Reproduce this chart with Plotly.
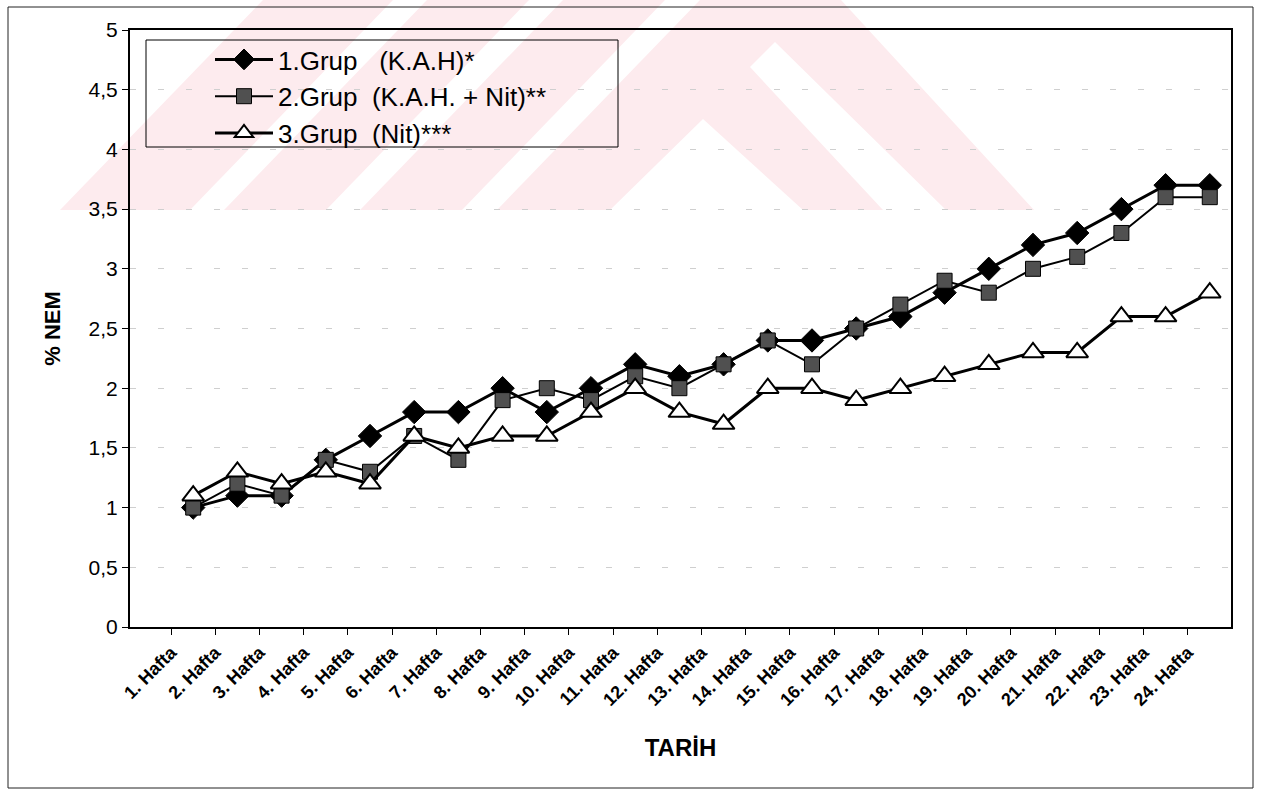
import plotly.graph_objects as go

# ---------------- data ----------------
weeks = ["1. Hafta", "2. Hafta", "3. Hafta", "4. Hafta", "5. Hafta", "6. Hafta",
         "7. Hafta", "8. Hafta", "9. Hafta", "10. Hafta", "11. Hafta", "12. Hafta",
         "13. Hafta", "14. Hafta", "15. Hafta", "16. Hafta", "17. Hafta", "18. Hafta",
         "19. Hafta", "20. Hafta", "21. Hafta", "22. Hafta", "23. Hafta", "24. Hafta"]

grup1 = [1.0, 1.1, 1.1, 1.4, 1.6, 1.8, 1.8, 2.0, 1.8, 2.0, 2.2, 2.1,
         2.2, 2.4, 2.4, 2.5, 2.6, 2.8, 3.0, 3.2, 3.3, 3.5, 3.7, 3.7]
grup2 = [1.0, 1.2, 1.1, 1.4, 1.3, 1.6, 1.4, 1.9, 2.0, 1.9, 2.1, 2.0,
         2.2, 2.4, 2.2, 2.5, 2.7, 2.9, 2.8, 3.0, 3.1, 3.3, 3.6, 3.6]
grup3 = [1.1, 1.3, 1.2, 1.3, 1.2, 1.6, 1.5, 1.6, 1.6, 1.8, 2.0, 1.8,
         1.7, 2.0, 2.0, 1.9, 2.0, 2.1, 2.2, 2.3, 2.3, 2.6, 2.6, 2.8]

names = ["1.Grup\u00a0\u00a0\u00a0(K.A.H)*",
         "2.Grup\u00a0\u00a0(K.A.H.\u00a0+\u00a0Nit)**",
         "3.Grup\u00a0\u00a0(Nit)***"]

y_tickvals = [0, 0.5, 1, 1.5, 2, 2.5, 3, 3.5, 4, 4.5, 5]
y_ticktext = ["0", "0,5", "1", "1,5", "2", "2,5", "3", "3,5", "4", "4,5", "5"]

# ---------------- layout geometry ----------------
W, H = 1267, 796
L, R, T, B = 130, 1231, 30, 627
FONT = "Liberation Sans, Arial, sans-serif"
PINK = "#fdebee"

xpos = list(range(1, len(weeks) + 1))
tick_pos = [k - 0.5 for k in xpos]


def px(x):
    return (x - L) / (R - L)


def py(y):
    return (B - y) / (B - T)


def poly(points):
    return "M" + " L".join(f"{px(a):.5f},{py(b):.5f}" for a, b in points) + " Z"


fig = go.Figure()

fig.add_trace(go.Scatter(
    x=xpos, y=grup1, name=names[0], mode="lines+markers",
    line=dict(color="black", width=3),
    marker=dict(symbol="diamond", size=18, color="black",
                line=dict(color="black", width=1)),
    legendgroup="g1"))
fig.add_trace(go.Scatter(
    x=xpos, y=grup2, name=names[1], mode="lines+markers",
    line=dict(color="black", width=2),
    marker=dict(symbol="square", size=15, color="#505050",
                line=dict(color="black", width=1)),
    legendgroup="g2"))
fig.add_trace(go.Scatter(
    x=xpos, y=grup3, name=names[2], mode="lines+markers",
    line=dict(color="black", width=3),
    marker=dict(symbol="triangle-up", size=19, color="white",
                line=dict(color="black", width=2)),
    legendgroup="g3"))

shapes = []
# watermark (light pink stripes)
wm = [
    [(60, 210), (190, 210), (393, 0), (263, 0)],
    [(224, 210), (326, 210), (529, 0), (427, 0)],
    [(360, 210), (462, 210), (665, 0), (563, 0)],
    [(497, 210), (700, 0), (841, 0), (1034, 210)],
]
for p in wm:
    shapes.append(dict(type="path", xref="paper", yref="paper", path=poly(p),
                       fillcolor=PINK, line=dict(width=0), layer="below"))
for p in [[(610, 210), (703, 119), (803, 210)],
          [(883, 210), (750, 67), (775, 42), (946, 210)]]:
    shapes.append(dict(type="path", xref="paper", yref="paper", path=poly(p),
                       fillcolor="white", line=dict(width=0), layer="below"))
# outer frame
shapes.append(dict(type="rect", xref="paper", yref="paper",
                   x0=px(8), x1=px(1253), y0=py(788), y1=py(7),
                   line=dict(color="#222", width=1), fillcolor="rgba(0,0,0,0)"))
# legend box
shapes.append(dict(type="rect", xref="paper", yref="paper",
                   x0=px(146), x1=px(618), y0=py(147), y1=py(40),
                   line=dict(color="black", width=1), fillcolor="rgba(0,0,0,0)"))

fig.update_layout(
    width=W, height=H,
    margin=dict(l=L, r=W - R, t=T, b=H - B, autoexpand=False),
    paper_bgcolor="white",
    plot_bgcolor="rgba(0,0,0,0)",
    font=dict(family=FONT, color="black"),
    showlegend=True,
    legend=dict(x=px(210), y=py(36), xanchor="left", yanchor="top",
                bgcolor="rgba(0,0,0,0)", borderwidth=0,
                font=dict(size=26, family=FONT, color="black"),
                itemwidth=58, tracegroupgap=2, traceorder="normal"),
    shapes=shapes,
    xaxis=dict(
        range=[-0.43, 24.48], tickmode="array", tickvals=tick_pos, ticktext=weeks,
        tickangle=-45, tickfont=dict(size=18, family=FONT, color="black", weight="bold"),
        ticks="outside", ticklen=6, tickwidth=1, tickcolor="black",
        showline=True, linecolor="black", linewidth=2, mirror=True,
        showgrid=False, zeroline=False, automargin=False,
        title=dict(text="<b>TARİH</b>", font=dict(size=24, family=FONT, color="black"),
                   standoff=30),
    ),
    yaxis=dict(
        range=[0, 5], tickmode="array", tickvals=y_tickvals, ticktext=y_ticktext,
        tickfont=dict(size=21, family=FONT, color="black"),
        ticks="outside", ticklen=6, tickwidth=1, tickcolor="black",
        showline=True, linecolor="black", linewidth=2, mirror=True,
        showgrid=True, gridcolor="#cfcfcf", gridwidth=1, griddash="6px,22px",
        zeroline=False, automargin=False,
        title=dict(text="<b>% NEM</b>", font=dict(size=22, family=FONT, color="black"),
                   standoff=22),
    ),
)

fig.write_html("out.html")
